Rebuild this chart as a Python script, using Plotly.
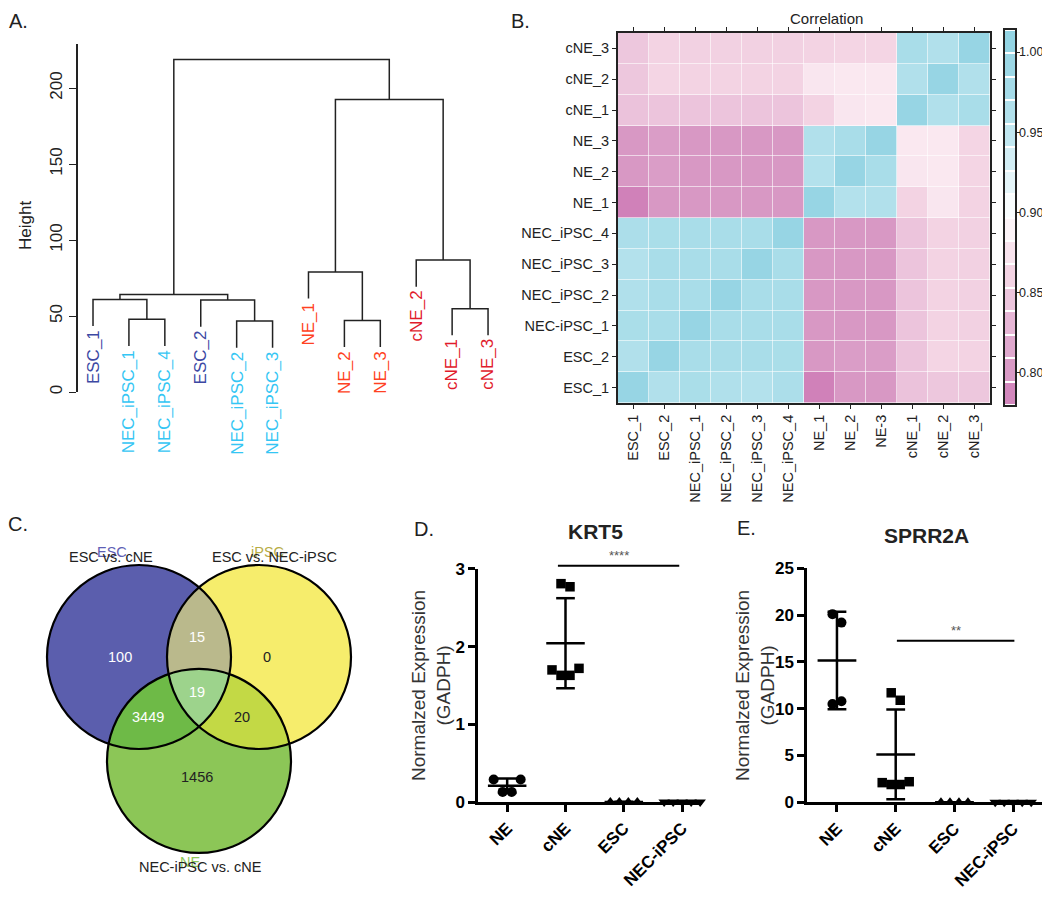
import math
import statistics

import plotly.graph_objects as go

FONT = "Liberation Sans, Arial, sans-serif"
INK = "#222222"

# ---------------- data ----------------
# A. hierarchical clustering (leaf order as drawn)
LEAVES = ["ESC_1", "NEC_iPSC_1", "NEC_iPSC_4", "ESC_2", "NEC_iPSC_2", "NEC_iPSC_3",
          "NE_1", "NE_2", "NE_3", "cNE_2", "cNE_1", "cNE_3"]
LEAF_GROUP = ["ESC", "NEC", "NEC", "ESC", "NEC", "NEC", "NE", "NE", "NE", "cNE", "cNE", "cNE"]
# R hclust style: negative = leaf number (1-based in LEAVES), positive = earlier merge
MERGE_LEFT = [-2, -1, -5, -4, 2, -8, -7, -11, -10, 7, 5]
MERGE_RIGHT = [-3, 1, -6, 3, 4, -9, 6, -12, 8, 9, 10]
MERGE_HEIGHT = [47.8, 60.9, 46.7, 60.5, 64.2, 47.1, 79.0, 54.8, 86.8, 192.5, 218.8]
HANG = 17.5

# B. correlation heatmap
ROW_LABELS = ["ESC_1", "ESC_2", "NEC-iPSC_1", "NEC_iPSC_2", "NEC_iPSC_3", "NEC_iPSC_4",
              "NE_1", "NE_2", "NE_3", "cNE_1", "cNE_2", "cNE_3"]
COL_LABELS = ["ESC_1", "ESC_2", "NEC_iPSC_1", "NEC_iPSC_2", "NEC_iPSC_3", "NEC_iPSC_4",
              "NE_1", "NE_2", "NE-3", "cNE_1", "cNE_2", "cNE_3"]
CORR_ESC_1 = [1.000, 0.962, 0.970, 0.963, 0.960, 0.968, 0.783, 0.800, 0.800, 0.843, 0.848, 0.848]
CORR_ESC_2 = [0.962, 1.000, 0.972, 0.972, 0.972, 0.970, 0.800, 0.805, 0.805, 0.845, 0.862, 0.860]
CORR_NEC_1 = [0.970, 0.972, 1.000, 0.972, 0.972, 0.972, 0.800, 0.800, 0.800, 0.845, 0.860, 0.858]
CORR_NEC_2 = [0.963, 0.972, 0.972, 1.000, 0.972, 0.972, 0.800, 0.800, 0.800, 0.845, 0.860, 0.858]
CORR_NEC_3 = [0.960, 0.972, 0.972, 0.972, 1.000, 0.972, 0.800, 0.800, 0.800, 0.845, 0.860, 0.858]
CORR_NEC_4 = [0.968, 0.970, 0.972, 0.972, 0.972, 1.000, 0.800, 0.800, 0.800, 0.845, 0.860, 0.858]
CORR_NE_1 = [0.783, 0.800, 0.800, 0.800, 0.800, 0.800, 1.000, 0.960, 0.962, 0.860, 0.878, 0.860]
CORR_NE_2 = [0.800, 0.805, 0.800, 0.800, 0.800, 0.800, 0.960, 1.000, 0.972, 0.878, 0.880, 0.862]
CORR_NE_3 = [0.800, 0.805, 0.800, 0.800, 0.800, 0.800, 0.962, 0.972, 1.000, 0.880, 0.880, 0.862]
CORR_CNE_1 = [0.843, 0.845, 0.845, 0.845, 0.845, 0.845, 0.860, 0.878, 0.880, 1.000, 0.962, 0.972]
CORR_CNE_2 = [0.848, 0.862, 0.860, 0.860, 0.860, 0.860, 0.878, 0.880, 0.880, 0.962, 1.000, 0.962]
CORR_CNE_3 = [0.848, 0.860, 0.858, 0.858, 0.858, 0.858, 0.860, 0.862, 0.862, 0.972, 0.962, 1.000]
CORR = [CORR_ESC_1, CORR_ESC_2, CORR_NEC_1, CORR_NEC_2, CORR_NEC_3, CORR_NEC_4,
        CORR_NE_1, CORR_NE_2, CORR_NE_3, CORR_CNE_1, CORR_CNE_2, CORR_CNE_3]
CB_MIN, CB_MAX, CB_BANDS = 0.78, 1.014, 16
CB_TICKS = [0.80, 0.85, 0.90, 0.95, 1.00]

# C. Venn diagram
VENN_SETS = ["ESC vs. cNE", "ESC vs. NEC-iPSC", "NEC-iPSC vs. cNE"]
VENN_GHOST = ["ESC", "iPSC", "NE"]
REGION_KEYS = [(1, 0, 0), (0, 1, 0), (0, 0, 1), (1, 1, 0), (1, 0, 1), (0, 1, 1), (1, 1, 1)]
REGION_COUNTS = [100, 0, 1456, 15, 3449, 20, 19]

# D / E. qPCR
CATS = ["NE", "cNE", "ESC", "NEC-iPSC"]
KRT5_NE = [0.29, 0.13, 0.13, 0.29]
KRT5_CNE = [2.81, 2.77, 1.70, 1.63, 1.63, 1.72]
KRT5_ESC = [0.0, 0.0, 0.0, 0.0]
KRT5_NEC = [0.0, 0.0, 0.0, 0.0, 0.0]
SPRR2A_NE = [20.1, 19.2, 10.5, 10.8]
SPRR2A_CNE = [11.7, 10.9, 2.1, 1.9, 1.9, 2.2]
SPRR2A_ESC = [0.0, 0.0, 0.0, 0.0]
SPRR2A_NEC = [0.0, 0.0, 0.0, 0.0, 0.0]

# ---------------- page geometry (pixels of the browser window) ----------------
W, H = 1050, 908
PAGE_PAD = 8  # the page body puts the figure 8px in from the window corner


def px(x):
    return (x - PAGE_PAD) / W


def py(y):
    return 1 - (y - PAGE_PAD) / H


def dom_x(a, b):
    return [px(a), px(b)]


def dom_y(top, bottom):
    return [py(bottom), py(top)]


def label(x, y, text, size, color=INK, angle=0, xanchor="center", yanchor="middle"):
    return dict(x=px(x), y=py(y), xref="paper", yref="paper", text=text, textangle=angle,
                xanchor=xanchor, yanchor=yanchor, showarrow=False,
                font=dict(family=FONT, size=size, color=color))


fig = go.Figure()
annotations = []
shapes = []

# ---------------- A. dendrogram ----------------
leaf_x = {i + 1: i + 1 for i in range(len(LEAVES))}
node_x, node_h = {}, {}
seg_x, seg_y = [], []
leaf_bottom = {}
for m, (l, r, h) in enumerate(zip(MERGE_LEFT, MERGE_RIGHT, MERGE_HEIGHT), start=1):
    pts = []
    for c in (l, r):
        if c < 0:
            x = leaf_x[-c]
            y0 = h - HANG
            leaf_bottom[-c] = y0
        else:
            x = node_x[c]
            y0 = node_h[c]
        pts.append((x, y0))
    node_x[m] = (pts[0][0] + pts[1][0]) / 2
    node_h[m] = h
    seg_x += [pts[0][0], pts[0][0], pts[1][0], pts[1][0], None]
    seg_y += [pts[0][1], h, h, pts[1][1], None]

fig.add_trace(go.Scatter(x=seg_x, y=seg_y, mode="lines", line=dict(color=INK, width=1.5),
                         xaxis="x", yaxis="y", hoverinfo="skip", showlegend=False))

GROUP_COLOR = {"ESC": "#3C48A3", "NEC": "#35C6F4", "NE": "#FF4122", "cNE": "#E11B2C"}
for i, (name, grp) in enumerate(zip(LEAVES, LEAF_GROUP), start=1):
    annotations.append(dict(x=leaf_x[i], y=leaf_bottom[i], xref="x", yref="y", text=name,
                            textangle=-90, xanchor="center", yanchor="top", yshift=-2,
                            showarrow=False, font=dict(family=FONT, size=17, color=GROUP_COLOR[grp])))
annotations.append(label(26, 226, "Height", 17, angle=-90))

# ---------------- B. heatmap ----------------
CS_VALUES = [0.78, 0.80, 0.845, 0.86, 0.88, 0.90, 0.93, 0.96, 0.975, 1.0, 1.014]
CS_COLORS = ["#CE7DB7", "#D898C4", "#ECC4DC", "#F3D3E3", "#FAE8F0", "#FFFFFF",
             "#D6EFF5", "#B3E1EC", "#A6DCE8", "#97D5E4", "#8FD2E2"]
colorscale = [[(v - CB_MIN) / (CB_MAX - CB_MIN), c] for v, c in zip(CS_VALUES, CS_COLORS)]

n = len(ROW_LABELS)
fig.add_trace(go.Heatmap(z=CORR, x=list(range(n)), y=list(range(n)), colorscale=colorscale,
                         zmin=CB_MIN, zmax=CB_MAX, showscale=False, xgap=0.6, ygap=0.6,
                         xaxis="x2", yaxis="y2", hoverinfo="skip"))
annotations.append(label(826, PAGE_PAD + 0.5, "Correlation", 15, yanchor="top"))

# colour key drawn as a banded strip
band = (CB_MAX - CB_MIN) / CB_BANDS
band_mid = [CB_MIN + band * (k + 0.5) for k in range(CB_BANDS)]
fig.add_trace(go.Heatmap(z=[[v] for v in band_mid], x=[0], y=band_mid, colorscale=colorscale,
                         zmin=CB_MIN, zmax=CB_MAX, showscale=False, ygap=2,
                         xaxis="x3", yaxis="y3", hoverinfo="skip"))
CB_TOP, CB_BOTTOM = 30, 405
for t in CB_TICKS:
    ty = CB_BOTTOM - (t - CB_MIN) / (CB_MAX - CB_MIN) * (CB_BOTTOM - CB_TOP)
    annotations.append(label(1017, ty, "%.2f" % t, 12.5, xanchor="left"))

# ---------------- C. Venn ----------------
VENN_C = (199, 657)
VENN_D = 120
VENN_R = 92
centers = [(VENN_C[0] - VENN_D / 2, VENN_C[1]),
           (VENN_C[0] + VENN_D / 2, VENN_C[1]),
           (VENN_C[0], VENN_C[1] + VENN_D * math.sqrt(3) / 2)]


def inside(p, k):
    c = centers[k]
    return math.hypot(p[0] - c[0], p[1] - c[1]) < VENN_R - 1e-6


def pair_points(i, j):
    (x1, y1), (x2, y2) = centers[i], centers[j]
    d = math.hypot(x2 - x1, y2 - y1)
    mx, my = (x1 + x2) / 2, (y1 + y2) / 2
    h = math.sqrt(VENN_R ** 2 - (d / 2) ** 2)
    ux, uy = -(y2 - y1) / d, (x2 - x1) / d
    a, b = (mx + h * ux, my + h * uy), (mx - h * ux, my - h * uy)
    k = 3 - i - j
    return (a, b) if inside(a, k) else (b, a)  # (inside third, outside third)


P = {}
for i, j in [(0, 1), (0, 2), (1, 2)]:
    P[(i, j, "in")], P[(i, j, "out")] = pair_points(i, j)


def arc(k, p, q, want, steps=60):
    c = centers[k]
    a0 = math.atan2(p[1] - c[1], p[0] - c[0])
    a1 = math.atan2(q[1] - c[1], q[0] - c[0])
    for da in ((a1 - a0) % (2 * math.pi), -((a0 - a1) % (2 * math.pi))):
        mid = a0 + da / 2
        m = (c[0] + VENN_R * math.cos(mid), c[1] + VENN_R * math.sin(mid))
        if all(inside(m, o) == v for o, v in want.items()):
            return [(c[0] + VENN_R * math.cos(a0 + da * t / steps),
                     c[1] + VENN_R * math.sin(a0 + da * t / steps)) for t in range(steps + 1)]
    return []


ABo, ABi = P[(0, 1, "out")], P[(0, 1, "in")]
ACo, ACi = P[(0, 2, "out")], P[(0, 2, "in")]
BCo, BCi = P[(1, 2, "out")], P[(1, 2, "in")]
T, F = True, False
REGION_PATHS = {
    (1, 0, 0): [(0, ABo, ACo, {1: F, 2: F}), (2, ACo, BCi, {0: T, 1: F}), (1, BCi, ABo, {0: T, 2: F})],
    (0, 1, 0): [(1, ABo, BCo, {0: F, 2: F}), (2, BCo, ACi, {1: T, 0: F}), (0, ACi, ABo, {1: T, 2: F})],
    (0, 0, 1): [(2, ACo, BCo, {0: F, 1: F}), (1, BCo, ABi, {2: T, 0: F}), (0, ABi, ACo, {2: T, 1: F})],
    (1, 1, 0): [(0, ABo, ACi, {1: T, 2: F}), (2, ACi, BCi, {0: T, 1: T}), (1, BCi, ABo, {0: T, 2: F})],
    (1, 0, 1): [(2, ACo, BCi, {0: T, 1: F}), (1, BCi, ABi, {0: T, 2: T}), (0, ABi, ACo, {2: T, 1: F})],
    (0, 1, 1): [(2, BCo, ACi, {1: T, 0: F}), (0, ACi, ABi, {1: T, 2: T}), (1, ABi, BCo, {2: T, 0: F})],
    (1, 1, 1): [(0, ABi, ACi, {1: T, 2: T}), (2, ACi, BCi, {0: T, 1: T}), (1, BCi, ABi, {0: T, 2: T})],
}
REGION_FILL = {(1, 0, 0): "#5B5EAD", (0, 1, 0): "#F6ED6C", (0, 0, 1): "#8CC657",
               (1, 1, 0): "#BAB98C", (1, 0, 1): "#6EBA47", (0, 1, 1): "#C3D945",
               (1, 1, 1): "#9DD38C"}
REGION_TEXT = {(1, 0, 0): "white", (0, 1, 0): INK, (0, 0, 1): INK, (1, 1, 0): "white",
               (1, 0, 1): "white", (0, 1, 1): INK, (1, 1, 1): "white"}
# where the count sits, relative to the diagram centre
REGION_LABEL_OFFSET = {(1, 0, 0): (-79, 0), (0, 1, 0): (68, 0), (0, 0, 1): (-2, 120),
                       (1, 1, 0): (-2, -20), (1, 0, 1): (-51, 60), (0, 1, 1): (43, 60),
                       (1, 1, 1): (-2, 35)}

for key, count in zip(REGION_KEYS, REGION_COUNTS):
    pts = []
    for k, p, q, want in REGION_PATHS[key]:
        pts += arc(k, p, q, want)
    fig.add_trace(go.Scatter(x=[p[0] for p in pts], y=[p[1] for p in pts], mode="lines",
                             fill="toself", fillcolor=REGION_FILL[key], line=dict(width=0),
                             xaxis="x4", yaxis="y4", hoverinfo="skip", showlegend=False))
    dx, dy = REGION_LABEL_OFFSET[key]
    annotations.append(label(VENN_C[0] + dx, VENN_C[1] + dy, str(count), 14.5,
                             color=REGION_TEXT[key]))

for c in centers:
    shapes.append(dict(type="circle", xref="x4", yref="y4", x0=c[0] - VENN_R, x1=c[0] + VENN_R,
                       y0=c[1] - VENN_R, y1=c[1] + VENN_R, line=dict(color="black", width=2.2)))

GHOST_COLOR = ["#5E60B5", "#B7AC45", "#8CC657"]
VENN_LABEL_POS = [(111, 557), (274, 557), (200, 867)]
GHOST_POS = [(112, 552), (267, 552), (190, 862)]
for name, ghost, gc, (lx, ly), (gx, gy) in zip(VENN_SETS, VENN_GHOST, GHOST_COLOR,
                                               VENN_LABEL_POS, GHOST_POS):
    annotations.append(label(gx, gy, ghost, 14.5, color=gc))
    annotations.append(label(lx, ly, name, 14.5))


# ---------------- D / E. dot plots ----------------
def swarm_offsets(values, px_per_unit, px_per_x, gap_px=9, near_px=14):
    order = sorted(range(len(values)), key=lambda i: -values[i])
    groups = []
    for i in order:
        if groups and abs(values[groups[-1][0]] - values[i]) * px_per_unit < near_px:
            groups[-1].append(i)
        else:
            groups.append([i])
    off = [0.0] * len(values)
    for g in groups:
        g.sort()
        for k, i in enumerate(g):
            off[i] = (k - (len(g) - 1) / 2) * gap_px / px_per_x
    return off


SYMBOLS = ["circle", "square", "triangle-up", "triangle-down"]
SIZES = [10, 9.5, 10, 10]


def dot_panel(groups, xa, ya, box, xr, yr, bar, stars, title, title_xy, ytitle_xy, yticks):
    x0, x1, top, bottom = box
    ppu = (bottom - top) / (yr[1] - yr[0])
    ppx = (x1 - x0) / (xr[1] - xr[0])
    lx, ly = [], []
    for ci, vals in enumerate(groups):
        off = swarm_offsets(vals, ppu, ppx)
        fig.add_trace(go.Scatter(x=[ci + o for o in off], y=vals, mode="markers",
                                 marker=dict(symbol=SYMBOLS[ci], size=SIZES[ci], color="black"),
                                 xaxis=xa, yaxis=ya, cliponaxis=False, hoverinfo="skip",
                                 showlegend=False))
        mean = statistics.mean(vals)
        sd = statistics.stdev(vals)
        lx += [ci - 0.33, ci + 0.33, None, ci, ci, None,
               ci - 0.16, ci + 0.16, None, ci - 0.16, ci + 0.16, None]
        ly += [mean, mean, None, mean - sd, mean + sd, None,
               mean + sd, mean + sd, None, mean - sd, mean - sd, None]
    fig.add_trace(go.Scatter(x=lx, y=ly, mode="lines", line=dict(color="black", width=2.5),
                             xaxis=xa, yaxis=ya, cliponaxis=False, hoverinfo="skip",
                             showlegend=False))

    def to_px_x(v):
        return x0 + (v - xr[0]) * ppx

    def to_px_y(v):
        return bottom - (v - yr[0]) * ppu

    bx0, bx1, by = bar
    shapes.append(dict(type="line", xref="paper", yref="paper", x0=px(to_px_x(bx0)),
                       x1=px(to_px_x(bx1)), y0=py(to_px_y(by)), y1=py(to_px_y(by)),
                       line=dict(color="black", width=2)))
    annotations.append(label(to_px_x((bx0 + bx1) / 2), to_px_y(by) - 1, stars, 13,
                             color="#555555", yanchor="bottom"))
    annotations.append(label(title_xy[0], title_xy[1], "<b>%s</b>" % title, 21))
    annotations.append(label(ytitle_xy[0], ytitle_xy[1], "Normalzed Expression<br>(GADPH)", 19,
                             color="#333333", angle=-90))
    axis_common = dict(showgrid=False, zeroline=False, showline=True, linecolor="black",
                       linewidth=2.5, ticks="outside", ticklen=7, tickwidth=2.5,
                       tickcolor="black", automargin=False,
                       tickfont=dict(family=FONT, size=17, color="black", weight="bold"))
    return (dict(domain=dom_x(x0, x1), range=xr, tickvals=list(range(len(CATS))), ticktext=CATS,
                 tickangle=-45, anchor=ya, **axis_common),
            dict(domain=dom_y(top, bottom), range=yr, tickvals=yticks, anchor=xa, **axis_common))


xa5, ya5 = dot_panel([KRT5_NE, KRT5_CNE, KRT5_ESC, KRT5_NEC], "x5", "y5",
                     (478, 702, 802 - 3 * 77.7, 802), [-0.5, 3.34], [0, 3],
                     (0.87, 2.95, 3.04), "****", "KRT5", (595, 531), (431, 686), [0, 1, 2, 3])
xa6, ya6 = dot_panel([SPRR2A_NE, SPRR2A_CNE, SPRR2A_ESC, SPRR2A_NEC], "x6", "y6",
                     (807, 1042, 568.3, 802.3), [-0.51, 3.49], [0, 25],
                     (1.02, 3.02, 17.27), "**", "SPRR2A", (926, 535), (755, 686),
                     [0, 5, 10, 15, 20, 25])

# panel letters (the top row is kept inside the figure's upper edge)
for letter, (x, y), anchor in zip(["A.", "B.", "C.", "D.", "E."],
                                  [(18, PAGE_PAD + 0.5), (520, PAGE_PAD + 0.5), (18, 524),
                                   (424, 529), (746, 528)],
                                  ["top", "top", "middle", "middle", "middle"]):
    annotations.append(label(x, y, letter, 20, yanchor=anchor))

tick_font = dict(family=FONT, size=14.5, color=INK)
fig.update_layout(
    width=W, height=H, margin=dict(l=0, r=0, t=0, b=0, autoexpand=False),
    paper_bgcolor="white", plot_bgcolor="white", showlegend=False,
    xaxis=dict(domain=dom_x(78, 506), range=[0.582, 12.5], visible=False, automargin=False),
    yaxis=dict(domain=dom_y(44, 392), range=[0, 229], tickvals=[0, 50, 100, 150, 200],
               tickangle=-90, ticks="outside", ticklen=7, showline=True, linecolor=INK,
               linewidth=1.5, tickcolor=INK, showgrid=False, zeroline=False, anchor="x",
               automargin=False, tickfont=dict(family=FONT, size=17, color=INK)),
    xaxis2=dict(domain=dom_x(618, 990), range=[-0.5, n - 0.5], tickvals=list(range(n)),
                ticktext=COL_LABELS, tickangle=-90, ticks="outside", ticklen=4,
                showline=True, mirror="ticks", linecolor=INK, linewidth=2, tickcolor=INK,
                showgrid=False, zeroline=False, tickfont=tick_font, anchor="y2",
                automargin=False),
    yaxis2=dict(domain=dom_y(33, 403), range=[-0.5, n - 0.5], tickvals=list(range(n)),
                ticktext=ROW_LABELS, ticks="outside", ticklen=4, showline=True, mirror="ticks",
                linecolor=INK, linewidth=2, tickcolor=INK, showgrid=False, zeroline=False,
                tickfont=tick_font, anchor="x2", automargin=False),
    xaxis3=dict(domain=dom_x(1005, 1015), range=[-0.5, 0.5], showticklabels=False,
                showline=True, mirror=True, linecolor=INK, linewidth=1.5, showgrid=False,
                zeroline=False, anchor="y3", automargin=False),
    yaxis3=dict(domain=dom_y(CB_TOP, CB_BOTTOM), range=[CB_MIN, CB_MAX], tickvals=CB_TICKS,
                showticklabels=False, side="right", ticks="outside", ticklen=3, showline=True,
                mirror=True, linecolor=INK, linewidth=1.5, tickcolor=INK, showgrid=False,
                zeroline=False, anchor="x3", automargin=False),
    xaxis4=dict(domain=dom_x(PAGE_PAD, 400), range=[PAGE_PAD, 400], visible=False,
                automargin=False),
    yaxis4=dict(domain=dom_y(530, 908), range=[908, 530], visible=False, anchor="x4",
                automargin=False),
    xaxis5=xa5, yaxis5=ya5, xaxis6=xa6, yaxis6=ya6,
    annotations=annotations, shapes=shapes,
)

fig.write_html("out.html")
